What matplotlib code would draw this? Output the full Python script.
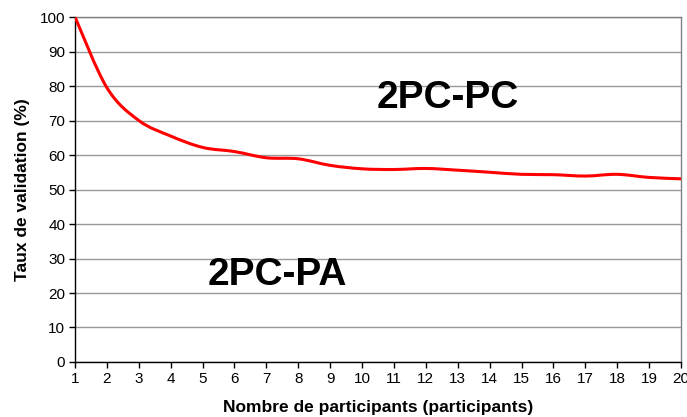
import numpy as np
import matplotlib
matplotlib.use("Agg")
import matplotlib.pyplot as plt
from matplotlib.path import Path
from matplotlib.patches import PathPatch

plt.rcParams["font.family"] = ["Liberation Sans", "DejaVu Sans"]

# -------------------------
# Data
# -------------------------
participants = [1, 2, 3, 4, 5, 6, 7, 8, 9, 10,
                11, 12, 13, 14, 15, 16, 17, 18, 19, 20]
taux_validation = [100, 79.5, 70, 65.5, 62.2, 61, 59.2, 58.9, 57, 56,
                   55.8, 56.1, 55.6, 55, 54.4, 54.3, 53.9, 54.4, 53.5, 53.1]
y_ticks = [0, 10, 20, 30, 40, 50, 60, 70, 80, 90, 100]
label_pc = "2PC-PC"
label_pa = "2PC-PA"


# -------------------------
# Smoothed line (Excel-style bezier through the points)
# -------------------------
def smooth_path(x, y, k=1 / 6):
    x = np.asarray(x, dtype=float)
    y = np.asarray(y, dtype=float)
    verts = [(x[0], y[0])]
    codes = [Path.MOVETO]
    n = len(x)
    for i in range(n - 1):
        x0, y0 = x[max(i - 1, 0)], y[max(i - 1, 0)]
        x1, y1 = x[i], y[i]
        x2, y2 = x[i + 1], y[i + 1]
        x3, y3 = x[min(i + 2, n - 1)], y[min(i + 2, n - 1)]
        c1 = (x1 + (x2 - x0) * k, y1 + (y2 - y0) * k)
        c2 = (x2 - (x3 - x1) * k, y2 - (y3 - y1) * k)
        verts += [c1, c2, (x2, y2)]
        codes += [Path.CURVE4] * 3
    return Path(verts, codes)


fig = plt.figure(figsize=(6.87, 4.17), dpi=100)
ax = fig.add_axes([0.1092, 0.1319, 0.8821, 0.8273])

ax.set_xlim(participants[0], participants[-1])
ax.set_ylim(0, 100)

patch = PathPatch(smooth_path(participants, taux_validation), facecolor="none",
                  edgecolor="#ff0000", lw=2.2, transform=ax.transData, zorder=3,
                  capstyle="round", joinstyle="round")
ax.add_patch(patch)

ax.set_xticks(participants)
ax.set_yticks(y_ticks)
ax.yaxis.grid(True, color="#999999", lw=1)
ax.set_axisbelow(True)

ax.tick_params(axis="both", labelsize=11, length=4, width=1, color="black",
               direction="out", pad=3)

ax.spines["left"].set_color("black")
ax.spines["bottom"].set_color("black")
ax.spines["top"].set_color("#808080")
ax.spines["right"].set_color("#808080")
for s in ax.spines.values():
    s.set_linewidth(1)

ax.set_xlabel("Nombre de participants (participants)", fontsize=12.5,
              fontweight="bold", labelpad=10)
ax.set_ylabel("Taux de validation (%)", fontsize=12.5, fontweight="bold",
              labelpad=7)

ax.text(12.7, 76.5, label_pc, fontsize=28, fontweight="bold",
        ha="center", va="center")
ax.text(7.35, 25.2, label_pa, fontsize=28, fontweight="bold",
        ha="center", va="center")

fig.savefig("out.png", dpi=100)
